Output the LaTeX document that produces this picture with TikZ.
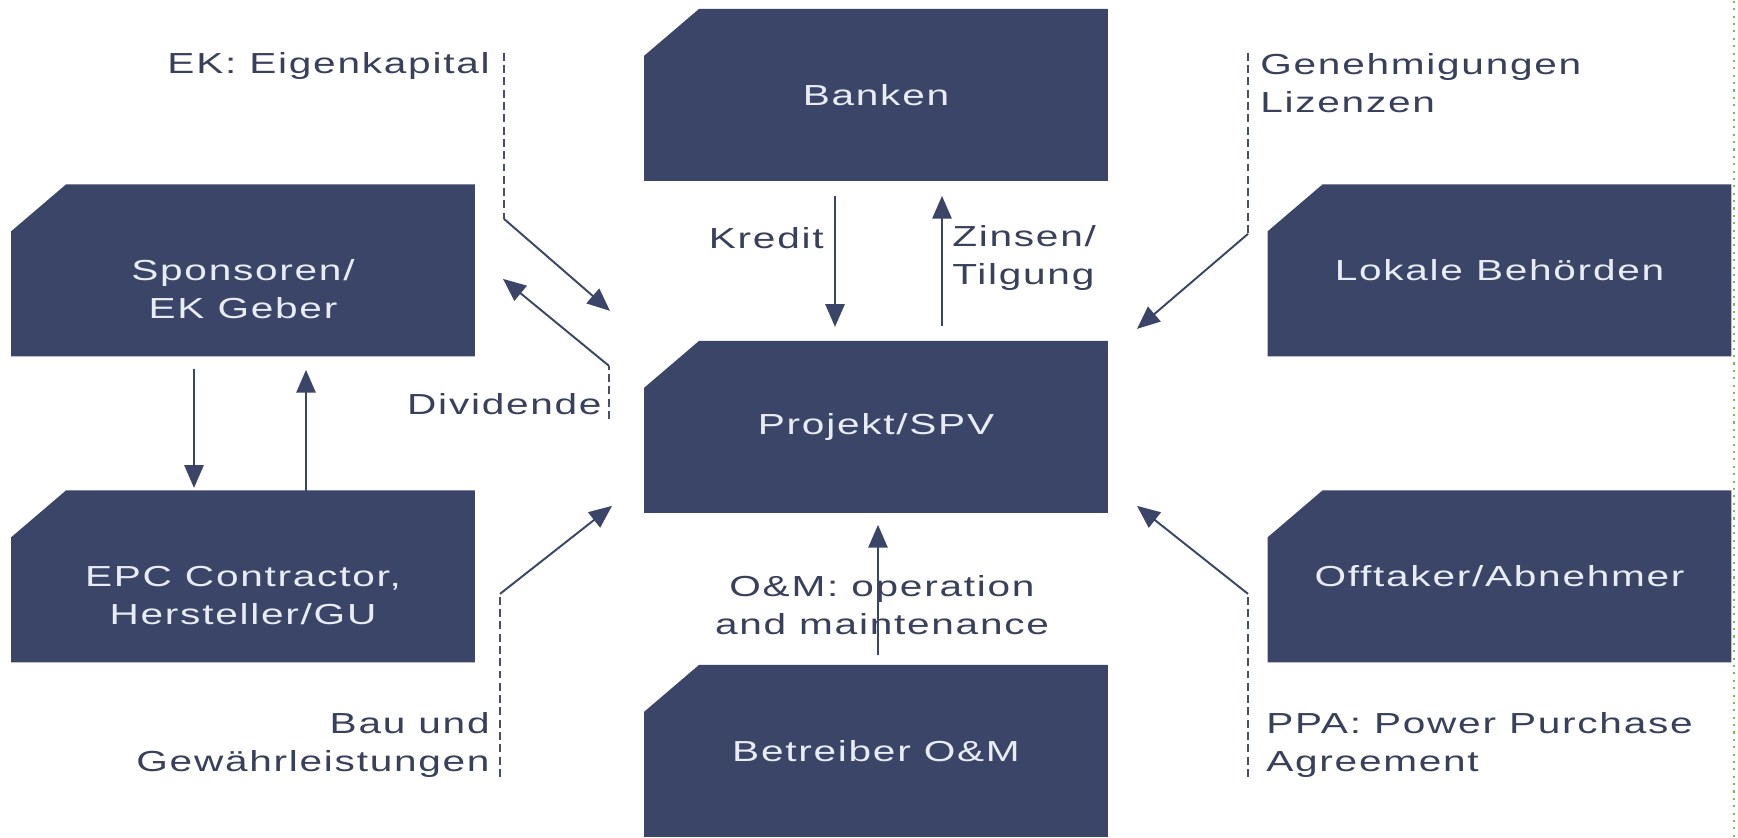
\documentclass[tikz,border=0pt]{standalone}
\usepackage{fontspec}
\setmainfont{Liberation Sans}[FakeStretch=1.4, LetterSpace=6]
\usepackage{xcolor}
\usepackage{tikz}
\usetikzlibrary{arrows.meta}
\definecolor{boxblue}{RGB}{58,69,104}
\definecolor{boxtext}{RGB}{232,236,244}
\definecolor{lbltext}{RGB}{56,64,92}
\definecolor{dashgray}{RGB}{72,80,104}
\definecolor{pagegreen}{RGB}{126,184,84}
\tikzset{
    box_node/.style = {rectangle, inner sep=0pt, minimum width=9.28cm, minimum height=3.44cm, text=boxtext,
        path picture={\fill[boxblue] (path picture bounding box.south west) -- ([yshift=-0.94cm]path picture bounding box.north west)
            -- ([xshift=1.1cm]path picture bounding box.north west) -- (path picture bounding box.north east)
            -- (path picture bounding box.south east) -- cycle;}},
    lbl_node/.style = {inner sep=0pt, text=lbltext},
    flow_arrow/.style = {-{Triangle[length=13pt, width=11pt]}, line width=1.1pt, draw=boxblue},
    dash_line/.style = {dash pattern=on 4.5pt off 2.5pt, line width=1pt, draw=dashgray}
}
\newcommand{\twolines}[2]{\raisebox{-6pt}[0pt][0pt]{\begin{tabular}[t]{@{}c@{}}#1\\#2\end{tabular}}}

\begin{document}
\begin{tikzpicture}
            [x=0.02cm, y=-0.02cm,
            every node/.style={font=\fontsize{16.5}{21.5}\selectfont}]

            \path[fill=white] (0,0) rectangle (1738,836);
            \draw[pagegreen, line width=1pt, dash pattern=on 1.2pt off 3pt] (1734,0) -- (1734,836);

            % boxes
            \node[box_node] (banken) at (876,94) {Banken};
            \node[box_node] (sponsor) at (243,269.5) {\twolines{Sponsoren/}{EK Geber}};
            \node[box_node] (behoerde) at (1499.5,269.5) {Lokale Behörden};
            \node[box_node] (projekt) at (876,426) {Projekt/SPV};
            \node[box_node] (epc) at (243,575.5) {\twolines{EPC Contractor,}{Hersteller/GU}};
            \node[box_node] (offtaker) at (1499.5,575.5) {Offtaker/Abnehmer};
            \node[box_node] (betreiber) at (876,750) {Betreiber O\&M};

            % labels
            \node[lbl_node, anchor=east] (ek_lbl) at (490,65) {EK: Eigenkapital};
            \node[lbl_node, anchor=east] (div_lbl) at (602,403) {Dividende};
            \node[lbl_node, anchor=east] (kredit_lbl) at (824,237) {Kredit};
            \node[lbl_node, anchor=west, align=left] (zins_lbl) at (952,257) {Zinsen/\\Tilgung};
            \node[lbl_node, anchor=west, align=left] (gen_lbl) at (1260,82) {Genehmigungen\\Lizenzen};
            \node[lbl_node, anchor=east, align=right] (bau_lbl) at (490,744) {Bau und\\Gewährleistungen};
            \node[lbl_node, align=center] (om_lbl) at (882,604) {O\&M: operation\\and maintenance};
            \node[lbl_node, anchor=west, align=left] (ppa_lbl) at (1266,744) {PPA: Power Purchase\\Agreement};

            % connector points
            \coordinate (ek_top) at (504,52);
            \coordinate (ek_knee) at (504,218);
            \coordinate (ek_tip) at (610,310);
            \coordinate (div_foot) at (609,418);
            \coordinate (div_knee) at (609,365);
            \coordinate (div_tip) at (503,278);
            \coordinate (gen_top) at (1248,52);
            \coordinate (gen_knee) at (1248,233);
            \coordinate (gen_tip) at (1137,328);
            \coordinate (bau_foot) at (500,776);
            \coordinate (bau_knee) at (500,593);
            \coordinate (bau_tip) at (612,505);
            \coordinate (ppa_foot) at (1248,776);
            \coordinate (ppa_knee) at (1248,593);
            \coordinate (ppa_tip) at (1137,505);
            \coordinate (kredit_a) at (835,195);
            \coordinate (kredit_b) at (835,326);
            \coordinate (zins_a) at (942,325);
            \coordinate (zins_b) at (942,195);
            \coordinate (ek_down_a) at (194,368);
            \coordinate (ek_down_b) at (194,487);
            \coordinate (ek_up_a) at (306,490);
            \coordinate (ek_up_b) at (306,369);
            \coordinate (om_a) at (878,654);
            \coordinate (om_b) at (878,524);

            \draw[dash_line] (ek_top) -- (ek_knee);
            \draw[flow_arrow] (ek_knee) -- (ek_tip);
            \draw[dash_line] (div_foot) -- (div_knee);
            \draw[flow_arrow] (div_knee) -- (div_tip);
            \draw[dash_line] (gen_top) -- (gen_knee);
            \draw[flow_arrow] (gen_knee) -- (gen_tip);
            \draw[dash_line] (bau_foot) -- (bau_knee);
            \draw[flow_arrow] (bau_knee) -- (bau_tip);
            \draw[dash_line] (ppa_foot) -- (ppa_knee);
            \draw[flow_arrow] (ppa_knee) -- (ppa_tip);
            \draw[flow_arrow] (kredit_a) -- (kredit_b);
            \draw[flow_arrow] (zins_a) -- (zins_b);
            \draw[flow_arrow] (ek_down_a) -- (ek_down_b);
            \draw[flow_arrow] (ek_up_a) -- (ek_up_b);
            \draw[flow_arrow] (om_a) -- (om_b);
        \end{tikzpicture}
\end{document}
